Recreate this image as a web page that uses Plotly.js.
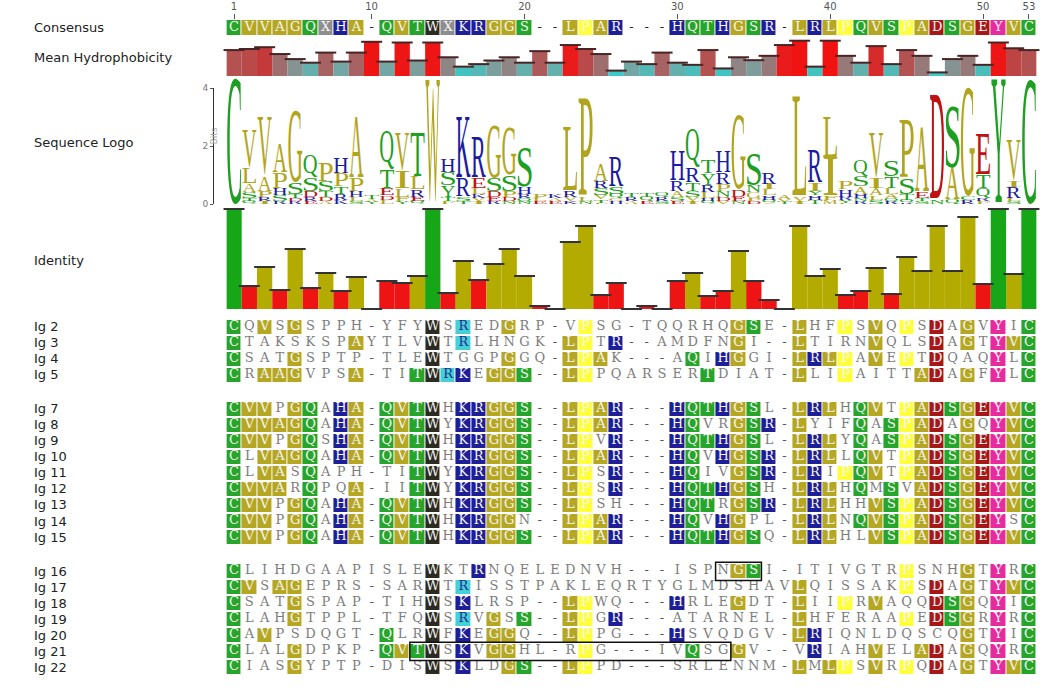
<!DOCTYPE html>
<html><head><meta charset="utf-8">
<script src="https://cdn.plot.ly/plotly-3.0.1.min.js"></script>
<style>html,body{margin:0;padding:0;background:#fff}#chart{width:1050px;height:694px}</style>
</head><body><div id="chart"></div>
<script>
// ---------------- DATA ----------------
const consensus = "CVVAGQXHA-QVTWXKRGGS--LPAR---HQTHGSR-LRLPQVSPADSGEYVC";
const tickCols = [1, 10, 20, 30, 40, 50, 53];

const seqNames = ["Ig 2","Ig 3","Ig 4","Ig 5","Ig 7","Ig 8","Ig 9","Ig 10","Ig 11","Ig 12","Ig 13","Ig 14","Ig 15","Ig 16","Ig 17","Ig 18","Ig 19","Ig 20","Ig 21","Ig 22"];
const groupSizes = [4, 9, 7];
const sequences = [
"CQVSGSPPH-YFYWSREDGRP-VPSG-TQQRHQGSE-LHFPSVQPSDAGVYIC",
"CTAKSKSPAYTLVWTRLHNGK-LPTR--AMDFNGI--LTIRNVQLSDAGTYVC",
"CSATGSPTP-TLEWTGGPGGQ-LPAK---AQIHGGI-LRLPAVEPTDQAQYLC",
"CRAAGVPSA-TITWRKEGGS--LPPQARSERTDIAT-LLIPAITTADAGFYLC",
"CVVPGQAHA-QVTWHKRGGS--LPAR---HQTHGSL-LRLHQVTPADSGEYVC",
"CVVAGQAHA-QVTWYKRGGS--LPAR---HQVRGSR-LYIFQASPADAGQYVC",
"CVVPGQSHA-QVTWHKRGGS--LPVR---HQTHGSL-LRLYQASPADSGEYVC",
"CLVAGQAHA-QVTWHKRGGS--LPAR---HQVHGSR-LRLLQVTPADSGEYVC",
"CLVASQAPH-TITWYKRGGS--LPSR---HQIVGSR-LRIPQVTPADSGEYVC",
"CVVARQPQA-IITWYKRGGS--LPSR---HQTHGSH-LRLHQMSVADSGEYVC",
"CVVPGQAHA-QVTWHKRGGS--LPSH---HQTRGSR-LRLHHVSPADSGEYVC",
"CVVPGQAHA-QVTWHKRGGN--LPAR---HQVHGPL-LRLNQVSPADSGEYSC",
"CVVPGQAHA-QVTWHKRGGS--LPAR---HQTHGSQ-LRLHLVSPADSGEYVC",
"CLIHDGAAPISLEWKTRNQELEDNVH---ISPNGSI-ITIVGTRPSNHGTYRC",
"CVSAGEPRS-SARWTRISSTPAKLEQRTYGLMDSHAVLQISSAKPSDAGTYVC",
"CSATGSPAP-TIHWSKLRSP--LPWQ---HRLEGDT-LIIPRVAQQDSGQYIC",
"CLAHGTPPL-TFQWSRVGSS--LPGR---ATARNEL-LHFERAAPEDSGRYRC",
"CAVPSDQGT-QLRWFKEGGQ--LPPG---HSVQDGV-LRIQNLDQSCQGTYIC",
"CLALGDPKP-QVTWSKVGGHL-RPG---IVQSGGV--VRIAHVELADAGQYRC",
"CIASGYPTP-DISWSKLDGS--LPPD---SRLENNM-LMLPSVRPQDAGTYVC"];
// columns whose residue is highlighted (agrees with consensus)
const highlightCols = [
[1,3,5,14,19,24,34,35,38,41,43,45,47,49,51,53],
[1,9,14,23,24,26,34,38,43,47,49,51,52,53],
[1,5,14,19,23,24,25,31,33,34,38,39,40,41,43,45,47,51,53],
[1,3,4,5,9,13,14,16,18,19,20,23,24,32,38,41,46,47,49,51,53],
[1,2,3,5,6,8,9,11,12,13,14,16,17,18,19,20,23,24,25,26,30,31,32,33,34,35,38,39,40,42,43,45,46,47,48,49,50,51,52,53],
[1,2,3,4,5,6,8,9,11,12,13,14,16,17,18,19,20,23,24,25,26,30,31,34,35,36,38,42,44,45,46,47,49,51,52,53],
[1,2,3,5,6,8,9,11,12,13,14,16,17,18,19,20,23,24,26,30,31,32,33,34,35,38,39,40,42,44,45,46,47,48,49,50,51,52,53],
[1,3,4,5,6,8,9,11,12,13,14,16,17,18,19,20,23,24,25,26,30,31,33,34,35,36,38,39,40,42,43,45,46,47,48,49,50,51,52,53],
[1,3,4,6,13,14,16,17,18,19,20,23,24,26,30,31,34,35,36,38,39,41,42,43,45,46,47,48,49,50,51,52,53],
[1,2,3,4,6,9,13,14,16,17,18,19,20,23,24,26,30,31,32,33,34,35,38,39,40,42,44,46,47,48,49,50,51,52,53],
[1,2,3,5,6,8,9,11,12,13,14,16,17,18,19,20,23,24,30,31,32,34,35,36,38,39,40,43,44,45,46,47,48,49,50,51,52,53],
[1,2,3,5,6,8,9,11,12,13,14,16,17,18,19,23,24,25,26,30,31,33,34,38,39,40,42,43,44,45,46,47,48,49,50,51,53],
[1,2,3,5,6,8,9,11,12,13,14,16,17,18,19,20,23,24,25,26,30,31,32,33,34,35,38,39,40,43,44,45,46,47,48,49,50,51,52,53],
[1,14,17,34,35,45,49,51,53],
[1,2,4,5,14,38,45,47,49,51,52,53],
[1,5,14,16,23,24,30,34,38,41,43,47,48,49,51,53],
[1,5,14,18,20,23,24,26,38,45,47,48,49,51,53],
[1,3,11,14,16,18,19,23,24,30,38,39,49,51,53],
[1,5,11,12,13,14,16,18,19,24,31,34,39,43,46,47,49,51,53],
[1,5,14,16,19,20,23,24,38,40,41,43,45,47,49,51,52,53]];
// columns whose residue is similar (not identical) to consensus
const similarCols = [[16],[16],[],[15],[],[],[],[],[],[],[],[],[],[],[16],[],[16],[],[],[]];

const hydrophobicity = [0.72,0.75,0.80,0.61,0.47,0.37,0.65,0.40,0.65,0.95,
 0.40,0.93,0.43,0.93,0.52,0.26,0.33,0.43,0.52,0.37,
 0.69,0.37,0.86,0.75,0.61,0.15,0.40,0.33,0.65,0.37,
 0.31,0.72,0.21,0.52,0.44,0.56,0.86,0.98,0.26,0.98,
 0.56,0.37,0.83,0.33,0.72,0.56,0.10,0.47,0.56,0.31,
 0.93,0.77,0.72];

const identity = [1.0,0.23,0.42,0.19,0.60,0.21,0.36,0.18,0.32,0.0,
 0.28,0.26,0.33,1.0,0.16,0.48,0.29,0.45,0.60,0.33,
 0.03,0.0,0.67,0.83,0.14,0.26,0.0,0.03,0.0,0.28,
 0.36,0.13,0.18,0.58,0.28,0.09,0.0,0.83,0.33,0.40,
 0.14,0.18,0.41,0.15,0.52,0.38,0.83,0.38,0.92,0.25,
 1.0,0.35,1.0];

// sequence logo: letters per column from top to bottom, with their heights in bits
const logoLetters = [
 "C","VLASTQ","VAPRI","APHSR","GSTDR","QSDRE","PSTDA","HPTRK","APHLS","TAY",
 "QTEDL","VILFY","TLREQ","W","HSYTF","KRST","RELKVI","GSDER","GSPDN","SHRQN",
 "PLE","KAE","LRVK","PLN","ARSVTP","RSQGH","TRA","TQE","QRS","HRASE",
 "QRTSVI","TYRLHQ","HRPNDV","GDEN","SNGPD","RILHQV","AVT","LVI","RIYHT","LIFM",
 "PHRYF","QSAHNR","VIALS","STLAQR","PSTQR","AETS","DN","SAQ","GCR","ETQRF",
 "Y","VIRLS","C"];
const logoHeights = [
 [4.3],[1.3,0.55,0.3,0.2,0.1,0.1],[2.05,0.5,0.2,0.15,0.1],[0.95,0.55,0.25,0.2,0.1],[2.45,0.4,0.15,0.1,0.1],
 [0.8,0.45,0.2,0.15,0.1],[0.65,0.35,0.2,0.15,0.1],[0.55,0.45,0.25,0.2,0.15],[2.1,0.45,0.2,0.15,0.1],[0.12,0.1,0.08],
 [1.3,0.65,0.25,0.15,0.15],[1.3,0.6,0.3,0.15,0.1],[1.5,0.45,0.25,0.15,0.1],[4.3],[0.45,0.45,0.4,0.15,0.1],
 [2.1,0.65,0.15,0.1],[1.4,0.35,0.2,0.15,0.1,0.1],[1.8,0.45,0.2,0.15,0.1],[1.6,0.55,0.2,0.15,0.1],[1.3,0.25,0.15,0.1,0.1],
 [0.15,0.1,0.1],[0.15,0.1,0.1],[2.2,0.2,0.15,0.1],[3.4,0.15,0.1],[0.6,0.25,0.25,0.15,0.1,0.05],
 [1.0,0.25,0.15,0.1,0.1],[0.15,0.15,0.1],[0.15,0.15,0.1],[0.15,0.15,0.1],[1.0,0.35,0.2,0.15,0.1],
 [1.3,0.5,0.3,0.2,0.15,0.1],[0.45,0.4,0.25,0.2,0.1,0.1],[0.75,0.4,0.25,0.2,0.15,0.1],[2.55,0.25,0.15,0.1],[1.05,0.25,0.2,0.1,0.1],
 [0.4,0.2,0.2,0.15,0.1,0.05],[0.12,0.1,0.08],[3.5,0.15,0.1],[1.1,0.3,0.15,0.15,0.15],[1.4,1.3,0.15,0.15],
 [0.3,0.25,0.1,0.1,0.05],[0.55,0.35,0.25,0.15,0.1,0.1],[1.55,0.35,0.25,0.15,0.15],[0.55,0.4,0.2,0.15,0.1,0.1],[2.0,0.55,0.2,0.1,0.05],
 [2.2,0.2,0.1,0.1],[3.6,0.15],[2.1,1.1,0.15],[3.7,0.15,0.15],[1.4,0.45,0.35,0.1,0.1],
 [4.3],[1.4,0.2,0.4,0.1,0.1],[4.25]];

const boxes = [{row: "Ig 16", start: 33, end: 35}, {row: "Ig 21", start: 13, end: 33}];

// ---------------- STYLE ----------------
const W = 1050, H = 694;
const CLASS = {C:0,S:0,T:0,Q:0,N:0, A:1,V:1,L:1,I:1,G:1,M:1,F:1, K:2,R:2,H:2, W:3, D:4,E:4, Y:5, P:6, X:8};
const SIMILAR = 7;
const CELL_COLORS = ['#27a52a','#b5a722','#1e1e97','#2c2b22','#a81717','#e62c9d','#ffff3c','#46cfd7','#8e8e8e'];
const LOGO_COLOR = {C:'#1f9f22',S:'#1f9f22',T:'#1f9f22',Q:'#1f9f22',N:'#1f9f22',Y:'#1f9f22',
  A:'#b2a51e',V:'#b2a51e',L:'#b2a51e',I:'#b2a51e',G:'#b2a51e',P:'#b2a51e',W:'#b2a51e',F:'#b2a51e',M:'#b2a51e',
  K:'#1b1b9e',R:'#1b1b9e',H:'#1b1b9e', D:'#c01212',E:'#c01212'};
const SEQ_FONT = 'DejaVu Serif';
const LOGO_FONT = 'Liberation Serif';
const LOGO_SIZE = 40;
const pyFrac = px => 1 - px / H;

const nCol = consensus.length;
const cols = Array.from({length: nCol}, (_, i) => i + 1);

const nc = CELL_COLORS.length;
const cellScale = [];
CELL_COLORS.forEach((c, i) => { cellScale.push([i / nc, c]); cellScale.push([(i + 1) / nc, c]); });

// row positions (groups separated by a gap)
const GROUP_GAP = 2.125;
const rowPos = [];
{ let p = 0; groupSizes.forEach(g => { for (let k = 0; k < g; k++) { rowPos.push(p); p += 1; } p += GROUP_GAP - 1; }); }
const lastRow = rowPos[rowPos.length - 1];

const traces = [];

// consensus row
const consZ = [consensus.split('').map(ch => ch === '-' ? null : CLASS[ch])];
traces.push({type:'heatmap', x: cols, y: [0], z: consZ, xaxis:'x', yaxis:'y', colorscale: cellScale,
  zmin:-0.5, zmax: nc - 0.5, showscale:false, xgap:1, ygap:0, hoverinfo:'skip'});
traces.push({type:'scatter', mode:'text', x: cols, y: cols.map(() => 0), text: consensus.split(''),
  xaxis:'x', yaxis:'y', textposition:'middle center', cliponaxis:false, hoverinfo:'skip',
  textfont:{family: SEQ_FONT, size: 13, color: consensus.split('').map(ch => ch === '-' ? '#222' : '#f6f6f6')}});

// hydrophobicity bars
traces.push({type:'bar', x: cols, y: hydrophobicity, xaxis:'x', yaxis:'y2', width: 1, hoverinfo:'skip',
  marker:{color: hydrophobicity, cmin:0, cmax:1, line:{width:0},
    colorscale:[[0,'#2cd3d0'],[0.3,'#47c0bd'],[0.42,'#7aa2a0'],[0.5,'#8b8b8b'],[0.6,'#9d6f6f'],[0.72,'#b45252'],[0.8,'#c43a3a'],[0.86,'#ea1b1b'],[1,'#f21010']]}});
traces.push({type:'scatter', mode:'markers', x: cols, y: hydrophobicity, xaxis:'x', yaxis:'y2', cliponaxis:false, hoverinfo:'skip',
  marker:{symbol:'line-ew', size:15, line:{width:2, color:'#4a2424'}}});

// sequence logo letters
const logoPts = {x:[], y:[], text:[], h:[], color:[]};
logoLetters.forEach((s, ci) => {
  const hs = logoHeights[ci];
  let base = 0;
  for (let k = s.length - 1; k >= 0; k--) {
    const h = hs[k] || 0;
    logoPts.x.push(ci + 1); logoPts.y.push(base + h / 2); logoPts.text.push(s[k]);
    logoPts.h.push(h); logoPts.color.push(LOGO_COLOR[s[k]] || '#888');
    base += h;
  }
});
traces.push({type:'scatter', mode:'text', name:'logo', x: logoPts.x, y: logoPts.y, text: logoPts.text,
  xaxis:'x', yaxis:'y3', textposition:'middle center', cliponaxis:false, hoverinfo:'skip',
  textfont:{family: LOGO_FONT, size: LOGO_SIZE, color: logoPts.color}});

// identity bars
const idColor = identity.map(v => v >= 0.999 ? '#17a617' : (v >= 0.3 ? '#b4ab00' : '#ee1414'));
traces.push({type:'bar', x: cols, y: identity, xaxis:'x', yaxis:'y4', width: 1, hoverinfo:'skip',
  marker:{color: idColor, line:{width:0}}});
traces.push({type:'scatter', mode:'markers', x: cols, y: identity, xaxis:'x', yaxis:'y4', cliponaxis:false, hoverinfo:'skip',
  marker:{symbol:'line-ew', size:15, line:{width:2, color:'#333'}}});

// alignment rows
let r0 = 0;
groupSizes.forEach(g => {
  const z = [], ys = [];
  for (let r = r0; r < r0 + g; r++) {
    const seq = sequences[r];
    z.push(seq.split('').map((ch, ci) => {
      const c = ci + 1;
      if (similarCols[r].includes(c)) return SIMILAR;
      if (highlightCols[r].includes(c)) return CLASS[ch] !== undefined ? CLASS[ch] : null;
      return null;
    }));
    ys.push(rowPos[r]);
  }
  traces.push({type:'heatmap', x: cols, y: ys, z: z, xaxis:'x', yaxis:'y5', colorscale: cellScale,
    zmin:-0.5, zmax: nc - 0.5, showscale:false, xgap:1, ygap:2, hoverinfo:'skip'});
  r0 += g;
});
const at = {x:[], y:[], text:[], color:[]};
sequences.forEach((seq, r) => {
  seq.split('').forEach((ch, ci) => {
    const c = ci + 1;
    at.x.push(c); at.y.push(rowPos[r]); at.text.push(ch);
    let col = '#7c7c7c';
    if (ch === '-') col = '#555';
    else if (similarCols[r].includes(c)) col = '#1d3590';
    else if (highlightCols[r].includes(c)) col = '#f6f6f6';
    at.color.push(col);
  });
});
traces.push({type:'scatter', mode:'text', x: at.x, y: at.y, text: at.text, xaxis:'x', yaxis:'y5',
  textposition:'middle center', cliponaxis:false, hoverinfo:'skip',
  textfont:{family: SEQ_FONT, size: 13, color: at.color}});

// ---------------- LAYOUT ----------------
const annotations = [];
const lab = (text, yv, yref) => annotations.push({text, x: 32 / W, xref:'paper', y: yv, yref, xanchor:'left', yanchor:'middle',
  showarrow:false, font:{family:'DejaVu Sans', size:13, color:'#222'}});
lab('Consensus', pyFrac(27), 'paper');
lab('Mean Hydrophobicity', pyFrac(57), 'paper');
lab('Sequence Logo', pyFrac(142), 'paper');
lab('Identity', pyFrac(260), 'paper');
seqNames.forEach((n, i) => lab(n, rowPos[i], 'y5'));
annotations.push({text:'Bits', x: 207 / W, xref:'paper', y: pyFrac(126), yref:'paper', textangle:-90,
  showarrow:false, font:{family:'DejaVu Sans', size:9, color:'#aaa'}});

const shapes = boxes.map(b => {
  const r = seqNames.indexOf(b.row);
  return {type:'rect', xref:'x', yref:'y5', x0: b.start - 0.5, x1: b.end + 0.5,
    y0: rowPos[r] - 0.55, y1: rowPos[r] + 0.6, line:{color:'#111', width:1.5}};
});

const hidden = {showgrid:false, zeroline:false, showline:false, showticklabels:false, ticks:'', fixedrange:true};
const layout = {
  width: W, height: H, margin:{l:0, r:0, t:0, b:0, pad:0}, paper_bgcolor:'#fff', plot_bgcolor:'rgba(0,0,0,0)',
  showlegend:false, annotations, shapes,
  xaxis:{domain:[226.4 / W, 1036.6 / W], range:[0.5, nCol + 0.5], anchor:'y', side:'top',
    tickmode:'array', tickvals: tickCols, ticktext: tickCols.map(String), ticks:'outside', ticklen:5, tickwidth:1,
    tickcolor:'#555', tickfont:{family:'DejaVu Sans', size:10, color:'#555'}, showgrid:false, zeroline:false, showline:false},
  yaxis: Object.assign({}, hidden, {domain:[pyFrac(35), pyFrac(20)], range:[0.5, -0.5], anchor:'x'}),
  yaxis2: Object.assign({}, hidden, {domain:[pyFrac(76), pyFrac(40)], range:[0, 1], anchor:'x'}),
  yaxis3: {domain:[pyFrac(204), pyFrac(88)], range:[0, 4], anchor:'free', position: 213 / W,
    showgrid:false, zeroline:false, showline:true, linecolor:'#333', linewidth:1, ticks:'outside', ticklen:3,
    tickcolor:'#555', tickvals:[0, 2, 4], tickfont:{family:'DejaVu Sans', size:9, color:'#777'}},
  yaxis4: Object.assign({}, hidden, {domain:[pyFrac(309), pyFrac(209)], range:[0, 1], anchor:'x'}),
  yaxis5: Object.assign({}, hidden, {domain:[pyFrac(675), pyFrac(319)], range:[lastRow + 0.5, -0.5], anchor:'x'})
};

const gd = document.getElementById('chart');

function fitLogo() {
  const fl = gd._fullLayout;
  const xa = fl.xaxis, ya = fl.yaxis3;
  const colW = Math.abs(xa.l2p(1) - xa.l2p(0));
  const bitPx = Math.abs(ya.l2p(1) - ya.l2p(0));
  const ctx = document.createElement('canvas').getContext('2d');
  ctx.font = LOGO_SIZE + 'px "' + LOGO_FONT + '"';
  ctx.textAlign = 'left'; ctx.textBaseline = 'alphabetic';
  gd.querySelectorAll('g.trace').forEach(tr => {
    const cd = tr.__data__;
    if (!cd || !cd[0] || !cd[0].trace || cd[0].trace.name !== 'logo') return;
    tr.querySelectorAll('g.textpoint').forEach((g, k) => {
      const d = g.__data__;
      const i = (d && typeof d.i === 'number') ? d.i : k;
      const t = g.querySelector('text'); if (!t) return;
      const bb = t.getBBox();
      const m = ctx.measureText(logoPts.text[i]);
      const fa = m.fontBoundingBoxAscent || LOGO_SIZE * 0.891;
      const base = bb.y + fa;
      const x0 = bb.x - m.actualBoundingBoxLeft, x1 = bb.x + m.actualBoundingBoxRight;
      const y0 = base - m.actualBoundingBoxAscent, y1 = base + m.actualBoundingBoxDescent;
      const h = logoPts.h[i];
      if (!(h > 0) || x1 - x0 <= 0 || y1 - y0 <= 0) { g.setAttribute('opacity', 0); return; }
      const sx = colW * 0.94 / (x1 - x0), sy = h * bitPx * 0.97 / (y1 - y0);
      const cx = xa.l2p(logoPts.x[i]), cy = ya.l2p(logoPts.y[i]);
      g.setAttribute('transform', 'translate(' + cx + ',' + cy + ') scale(' + sx + ',' + sy + ') translate(' + (-(x0 + x1) / 2) + ',' + (-(y0 + y1) / 2) + ')');
    });
  });
}

Plotly.newPlot(gd, traces, layout, {staticPlot:true, displayModeBar:false}).then(fitLogo);
</script>
</body></html>
